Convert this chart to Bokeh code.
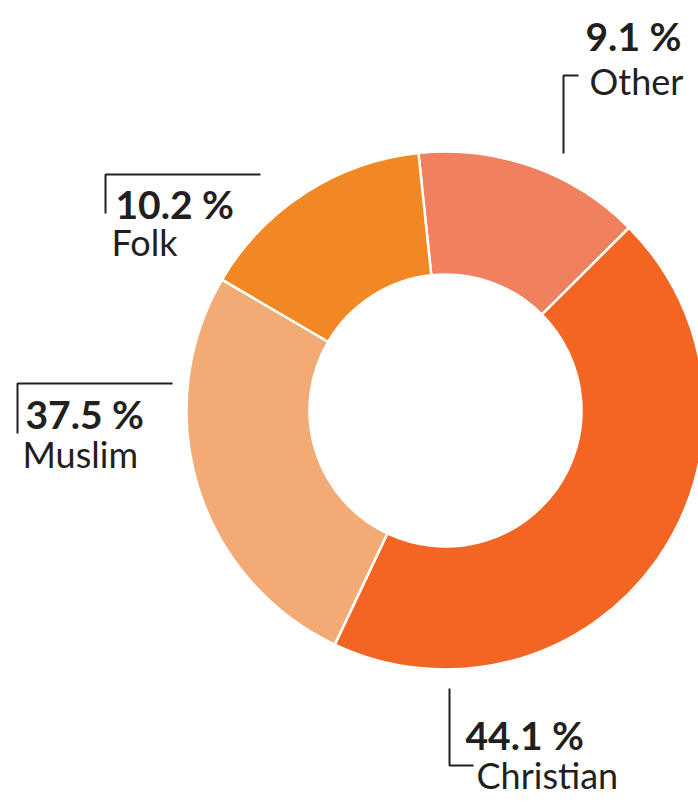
import math
from bokeh.plotting import figure
from bokeh.models import Range1d, ColumnDataSource
from bokeh.core.properties import value
from bokeh.embed import file_html
from bokeh.resources import INLINE

# ---- data ----
categories = ["Other", "Christian", "Muslim", "Folk"]
label_pct = ["9.1 %", "44.1 %", "37.5 %", "10.2 %"]          # printed labels
slice_share = [14.2, 44.5, 26.4, 14.9]                         # slice sizes as drawn (%)
colors = ["#F0805E", "#F26522", "#F3AB75", "#F18824"]

# ---- layout ----
W, H = 698, 802
def px(x):  # picture x -> data x
    return x
def py(y):  # picture y -> data y
    return H - y

cx, cy = px(445), py(410)
r_out, r_in = 259, 136
start_deg = -6.0  # clockwise from 12 o'clock
text_shift = 14   # compensation between requested and rendered baseline

p = figure(width=W, height=H, output_backend="svg", toolbar_location=None,
           x_range=Range1d(0, W), y_range=Range1d(0, H), min_border=0)
p.axis.visible = False
p.grid.visible = False
p.outline_line_color = None
p.background_fill_color = "white"
p.border_fill_color = "white"

starts, ends = [], []
acc = start_deg
for s in slice_share:
    a0 = acc
    a1 = acc + s / 100.0 * 360.0
    starts.append(math.radians(90 - a0))
    ends.append(math.radians(90 - a1))
    acc = a1

src = ColumnDataSource(dict(x=[cx] * 4, y=[cy] * 4, start=starts, end=ends,
                            color=colors, cat=categories))
p.annular_wedge(x="x", y="y", inner_radius=r_in, outer_radius=r_out,
                start_angle="start", end_angle="end", direction="clock",
                fill_color="color", line_color="white", line_width=2.5, source=src)

# label layout (picture coords): pct (x, baseline), name (x, baseline), leader polyline
label_layout = {
    "Other": ((585, 49), (589, 94), [(578, 75), (563, 75), (563, 153)]),
    "Folk": ((115, 217), (111, 255), [(260, 174), (105, 174), (105, 213)]),
    "Muslim": ((25, 427), (22, 467), [(172, 383), (17, 383), (17, 433)]),
    "Christian": ((465, 748), (476, 788), [(449, 688), (449, 765), (473, 765)]),
}

ink = "#231F20"
xs, ys = [], []
pt_x, pt_y, pt_t, nm_x, nm_y, nm_t = [], [], [], [], [], []
for cat, pct in zip(categories, label_pct):
    (ax, ay), (bx, by), poly = label_layout[cat]
    pt_x.append(px(ax)); pt_y.append(py(ay - text_shift)); pt_t.append(pct)
    nm_x.append(px(bx)); nm_y.append(py(by - text_shift)); nm_t.append(cat)
    xs.append([px(q[0]) for q in poly]); ys.append([py(q[1]) for q in poly])

p.multi_line(xs=xs, ys=ys, line_color=ink, line_width=2)
p.text(x=pt_x, y=pt_y, text=pt_t, text_font=value("Lato"), text_font_style="bold",
       text_font_size="39px", text_color=ink, text_align="left", text_baseline="alphabetic")
p.text(x=nm_x, y=nm_y, text=nm_t, text_font=value("Lato"), text_font_style="normal",
       text_font_size="36px", text_color=ink, text_align="left", text_baseline="alphabetic")

open("out.html", "w").write(file_html(p, INLINE))
